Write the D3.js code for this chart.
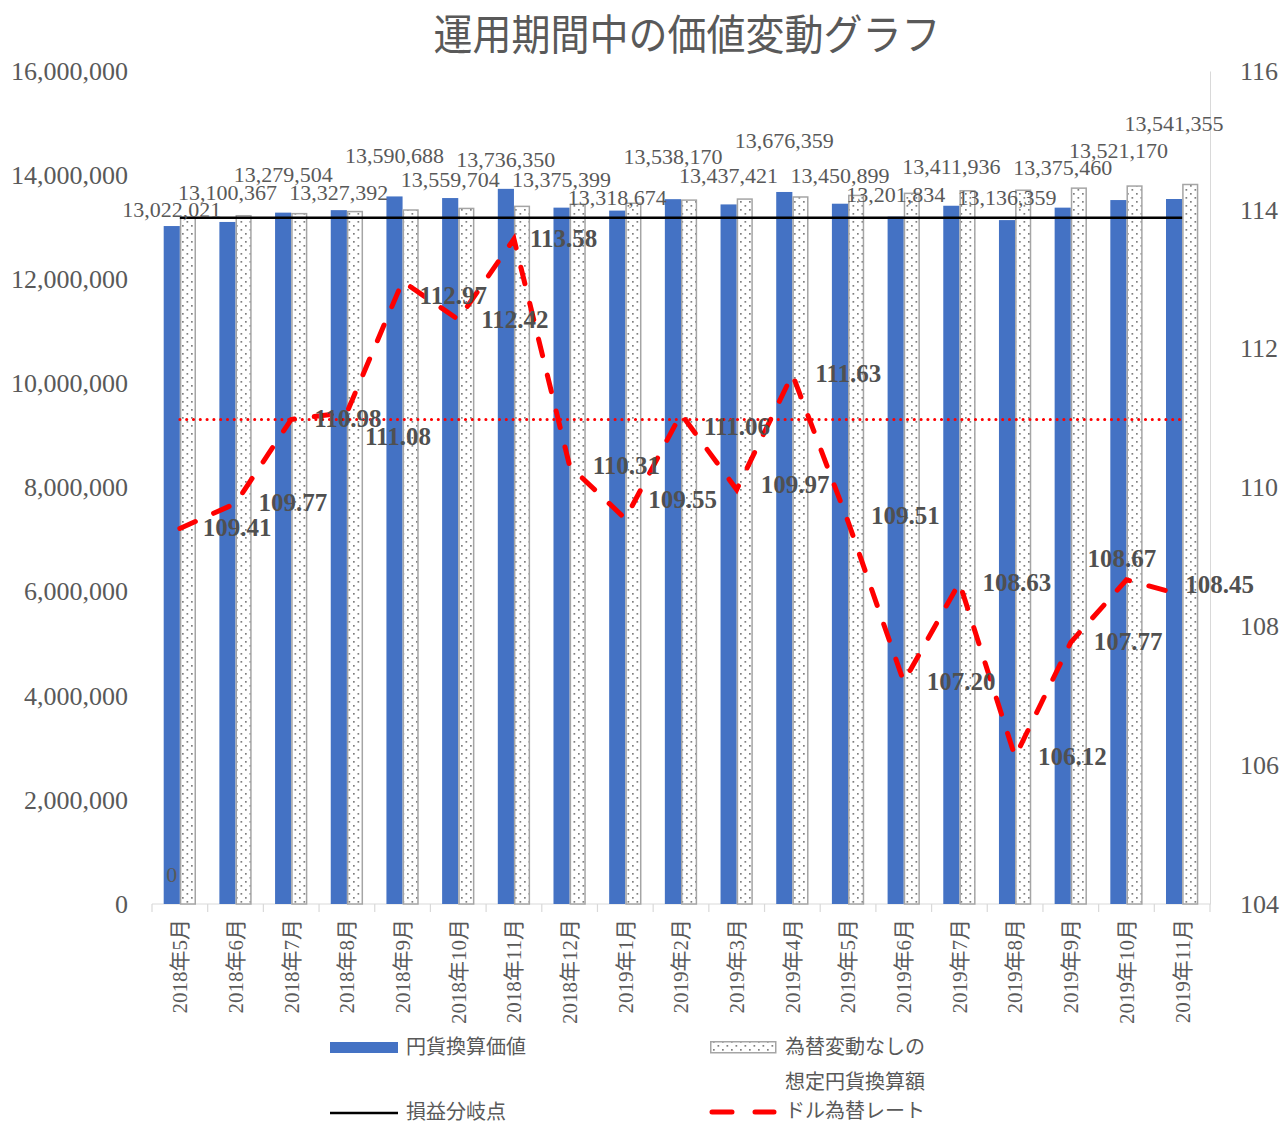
<!DOCTYPE html>
<html>
<head>
  <meta charset="utf-8">
  <title>運用期間中の価値変動グラフ</title>
  <script src="https://d3js.org/d3.v7.min.js"></script>
  <style>
    body { margin: 0; background: #fff; }
    text { fill: #595959; font-family: "Liberation Serif", "Times New Roman", "Noto Sans CJK JP", serif; }
    .title { font-family: "Noto Sans CJK JP", sans-serif; font-size: 42px; }
    .tick text { font-size: 26px; }
    .xlab { font-size: 21px; }
    .barlab { font-size: 22px; }
    .ratelab { font-size: 25px; fill: #505050; font-weight: bold; }
    .legend text { font-family: "Noto Sans CJK JP", sans-serif; font-size: 20px; }
  </style>
</head>
<body>
  <svg width="1284" height="1124"></svg>

  <script>
    // data
    const months = ["2018年5月", "2018年6月", "2018年7月", "2018年8月", "2018年9月", "2018年10月",
      "2018年11月", "2018年12月", "2019年1月", "2019年2月", "2019年3月", "2019年4月", "2019年5月",
      "2019年6月", "2019年7月", "2019年8月", "2019年9月", "2019年10月", "2019年11月"];
    const yenValue = [13022021, 13100367, 13279504, 13327392, 13590688, 13559704, 13736350,
      13375399, 13318674, 13538170, 13437421, 13676359, 13450899, 13201834, 13411936,
      13136359, 13375460, 13521170, 13541355];
    // 為替変動なしの想定円貨換算額
    const noFxValue = [13180000, 13220000, 13260000, 13300000, 13330000, 13360000, 13400000,
      13440000, 13460000, 13520000, 13540000, 13580000, 13610000, 13650000, 13700000,
      13710000, 13750000, 13790000, 13820000];
    const breakEven = 13180000;
    const usdJpy = [109.41, 109.77, 110.98, 111.08, 112.97, 112.42, 113.58, 110.31, 109.55,
      111.06, 109.97, 111.63, 109.51, 107.20, 108.63, 106.12, 107.77, 108.67, 108.45];
    const refRate = 110.98;
    const leftTicks = [0, 2000000, 4000000, 6000000, 8000000, 10000000, 12000000, 14000000, 16000000];
    const rightTicks = [104, 106, 108, 110, 112, 114, 116];

    const svg = d3.select("svg");
    const pLeft = 152, pRight = 1210, pTop = 71, pBottom = 904;

    const x = d3.scaleBand().domain(months).range([pLeft, pRight]);
    const yL = d3.scaleLinear().domain([0, 16000000]).range([pBottom, pTop]);
    const yR = d3.scaleLinear().domain([104, 116]).range([pBottom, pTop]);
    const bw = x.bandwidth() * 0.29;
    const cx = m => x(m) + x.bandwidth() / 2;

    // dotted fill
    const defs = svg.append("defs");
    const pat = defs.append("pattern").attr("id", "dots")
      .attr("patternUnits", "userSpaceOnUse").attr("width", 9).attr("height", 8);
    pat.append("rect").attr("width", 9).attr("height", 8).attr("fill", "#fff");
    pat.append("rect").attr("x", 2).attr("y", 1).attr("width", 1.7).attr("height", 1.7).attr("fill", "#7f7f7f");
    pat.append("rect").attr("x", 6.5).attr("y", 5).attr("width", 1.7).attr("height", 1.7).attr("fill", "#7f7f7f");

    // title
    svg.append("text").attr("class", "title")
      .attr("x", 687).attr("y", 50).attr("text-anchor", "middle")
      .attr("textLength", 507).attr("lengthAdjust", "spacingAndGlyphs")
      .text("運用期間中の価値変動グラフ");

    // axes
    const gL = svg.append("g").attr("transform", `translate(${pLeft},0)`)
      .call(d3.axisLeft(yL).tickValues(leftTicks).tickSize(0).tickPadding(24).tickFormat(d3.format(",")));
    gL.select(".domain").remove();
    const gR = svg.append("g").attr("transform", `translate(${pRight},0)`)
      .call(d3.axisRight(yR).tickValues(rightTicks).tickSize(0).tickPadding(30));
    gR.select(".domain").attr("stroke", "#d9d9d9");
    svg.selectAll(".tick text").attr("fill", "#595959");

    svg.append("line").attr("x1", pLeft).attr("x2", pRight).attr("y1", pBottom).attr("y2", pBottom)
      .attr("stroke", "#d9d9d9").attr("stroke-width", 1.2);
    svg.selectAll("line.xtick").data(months.concat([null])).enter().append("line")
      .attr("class", "xtick")
      .attr("x1", (d, i) => pLeft + i * x.step()).attr("x2", (d, i) => pLeft + i * x.step())
      .attr("y1", pBottom).attr("y2", pBottom + 8)
      .attr("stroke", "#d9d9d9").attr("stroke-width", 1.2);

    svg.selectAll("text.xlab").data(months).enter().append("text")
      .attr("class", "xlab")
      .attr("transform", d => `translate(${cx(d)},${pBottom + 15}) rotate(-90)`)
      .attr("text-anchor", "end").attr("dy", "0.35em")
      .text(d => d);

    // bars
    svg.selectAll("rect.yen").data(months).enter().append("rect")
      .attr("class", "yen")
      .attr("x", d => cx(d) - bw).attr("width", bw)
      .attr("y", (d, i) => yL(yenValue[i])).attr("height", (d, i) => pBottom - yL(yenValue[i]))
      .attr("fill", "#4472c4");
    svg.selectAll("rect.nofx").data(months).enter().append("rect")
      .attr("class", "nofx")
      .attr("x", d => cx(d) + 0.75).attr("width", bw - 1.5)
      .attr("y", (d, i) => yL(noFxValue[i])).attr("height", (d, i) => pBottom - yL(noFxValue[i]))
      .attr("fill", "url(#dots)").attr("stroke", "#a5a5a5").attr("stroke-width", 1.5);

    // 損益分岐点
    svg.append("line")
      .attr("x1", cx(months[0])).attr("x2", cx(months[months.length - 1]))
      .attr("y1", yL(breakEven)).attr("y2", yL(breakEven))
      .attr("stroke", "#000").attr("stroke-width", 2.5);

    // reference rate (red dotted)
    svg.append("line")
      .attr("x1", cx(months[0])).attr("x2", cx(months[months.length - 1]))
      .attr("y1", yR(refRate)).attr("y2", yR(refRate))
      .attr("stroke", "#ff0000").attr("stroke-width", 3)
      .attr("stroke-dasharray", "0.1,6.7").attr("stroke-linecap", "round");

    // ドル為替レート
    const line = d3.line().x((d, i) => cx(months[i])).y(d => yR(d));
    svg.append("path").datum(usdJpy)
      .attr("d", line).attr("fill", "none")
      .attr("stroke", "#ff0000").attr("stroke-width", 5)
      .attr("stroke-dasharray", "17,20").attr("stroke-linecap", "round");

    // bar labels (manually lifted as in the original)
    const lift = [16, 29, 38, 17, 40, 18, 29, 28, 13, 42, 28, 51, 28, 22, 39, 22, 40, 49, 75];
    svg.selectAll("text.barlab").data(yenValue).enter().append("text")
      .attr("class", "barlab")
      .attr("x", (d, i) => cx(months[i]) - bw / 2)
      .attr("y", (d, i) => yL(d) - lift[i] + 7)
      .attr("text-anchor", "middle")
      .text(d => d3.format(",")(d));
    svg.append("text").attr("class", "barlab")
      .attr("x", cx(months[0]) - bw / 2).attr("y", yL(0) - 22)
      .attr("text-anchor", "middle").text("0");

    // rate labels
    const nudge = { 3: [-5, 24], 4: [-6, 15], 6: [-7, 0], 8: [0, -19], 9: [0, 13], 10: [1, -5],
      12: [0, -6], 17: [-62, -21], 18: [-20, -10] };
    svg.selectAll("text.ratelab").data(usdJpy).enter().append("text")
      .attr("class", "ratelab")
      .attr("x", (d, i) => cx(months[i]) + 23 + (nudge[i] ? nudge[i][0] : 0))
      .attr("y", (d, i) => yR(d) + 8 + (nudge[i] ? nudge[i][1] : 0))
      .text(d => d3.format(".2f")(d));

    // legend
    const lg = svg.append("g").attr("class", "legend");
    lg.append("rect").attr("x", 330).attr("y", 1042).attr("width", 68).attr("height", 11).attr("fill", "#4472c4");
    lg.append("text").attr("x", 406).attr("y", 1054).text("円貨換算価値");
    lg.append("rect").attr("x", 710.75).attr("y", 1041.75).attr("width", 65).attr("height", 11)
      .attr("fill", "url(#dots)").attr("stroke", "#a5a5a5").attr("stroke-width", 1.5);
    lg.append("text").attr("x", 785).attr("y", 1054).text("為替変動なしの");
    lg.append("text").attr("x", 785).attr("y", 1089).text("想定円貨換算額");
    lg.append("line").attr("x1", 330).attr("x2", 398).attr("y1", 1113).attr("y2", 1113)
      .attr("stroke", "#000").attr("stroke-width", 2.5);
    lg.append("text").attr("x", 406).attr("y", 1119).text("損益分岐点");
    lg.append("line").attr("x1", 712).attr("x2", 774).attr("y1", 1112).attr("y2", 1112)
      .attr("stroke", "#ff0000").attr("stroke-width", 5)
      .attr("stroke-dasharray", "20,23").attr("stroke-linecap", "round");
    lg.append("text").attr("x", 785).attr("y", 1118).text("ドル為替レート");
  </script>
</body>
</html>
